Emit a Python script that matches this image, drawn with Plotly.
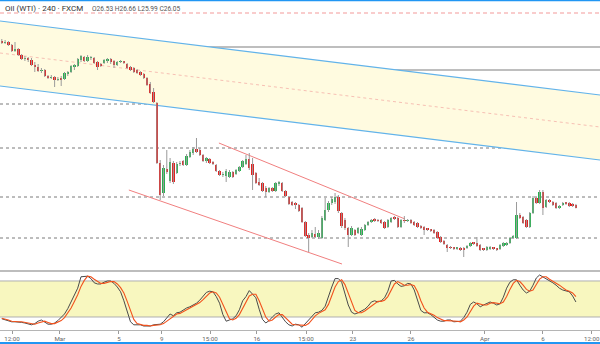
import plotly.graph_objects as go

# ---------------- data ----------------
opens = [51.10, 50.80, 50.95, 50.50, 49.60, 49.90, 49.00, 48.40, 48.55, 48.25,
         47.50, 47.20, 46.60, 46.75, 45.85, 45.55, 45.70, 45.25, 45.55, 45.40,
         46.15, 46.45, 47.20, 47.35, 48.25, 48.70, 48.10, 48.55, 48.55, 47.95,
         47.65, 47.80, 48.10, 48.40, 48.10, 47.50, 47.95, 47.95, 47.65, 47.20,
         47.05, 46.75, 46.45, 46.15, 45.55, 44.65, 43.45, 41.80, 32.80, 28.30,
         31.90, 30.10, 32.80, 31.30, 32.65, 33.10, 32.50, 33.70, 34.30, 34.90,
         34.75, 34.00, 33.10, 33.40, 32.95, 32.50, 31.60, 31.00, 30.85, 30.70,
         31.45, 31.15, 31.60, 32.20, 32.65, 33.40, 32.65, 31.30, 29.95, 29.80,
         29.05, 28.45, 29.05, 28.60, 29.65, 29.80, 28.60, 27.70, 26.95, 26.80,
         26.50, 26.05, 23.95, 22.00, 21.70, 22.15, 21.70, 21.55, 24.25, 25.75,
         26.80, 26.95, 27.70, 25.30, 24.25, 23.05, 22.00, 22.75, 22.30, 22.00,
         22.75, 23.50, 23.95, 24.25, 24.25, 24.25, 23.95, 23.20, 23.95, 24.55,
         24.55, 23.20, 24.25, 24.10, 24.25, 23.95, 23.80, 23.35, 23.20, 22.90,
         22.75, 22.75, 22.45, 21.70, 21.10, 20.50, 20.20, 20.05, 19.98, 20.05,
         20.05, 20.05, 20.35, 20.80, 20.80, 20.50, 19.90, 19.75, 19.90, 20.05,
         19.90, 19.90, 20.35, 20.50, 20.80, 21.55, 21.55, 25.00, 24.70, 24.25,
         23.20, 25.30, 27.55, 26.80, 28.45, 26.20, 27.25, 26.95, 26.80, 26.05,
         26.50, 26.80, 26.80, 26.65, 26.53]
highs = [51.40, 51.25, 51.10, 50.65, 50.95, 50.05, 49.15, 48.85, 48.70, 48.55,
         47.95, 47.65, 47.05, 46.90, 46.00, 46.00, 45.85, 45.70, 45.85, 46.45,
         46.60, 47.50, 47.65, 48.55, 49.00, 48.85, 49.00, 48.85, 48.70, 48.10,
         47.80, 48.40, 48.55, 48.55, 48.25, 48.10, 48.25, 48.10, 47.80, 47.35,
         47.20, 46.90, 46.60, 46.30, 45.70, 44.95, 44.05, 41.95, 33.25, 32.50,
         34.75, 33.55, 33.10, 32.95, 33.10, 33.25, 34.15, 34.75, 35.20, 36.55,
         35.05, 34.15, 33.70, 33.55, 33.10, 32.65, 31.75, 31.45, 31.90, 31.75,
         31.60, 31.90, 32.35, 33.25, 34.00, 34.30, 33.55, 31.45, 30.55, 29.95,
         29.35, 29.20, 29.20, 29.95, 30.10, 29.95, 28.75, 27.85, 27.10, 26.95,
         26.65, 26.20, 24.10, 22.30, 22.75, 23.20, 22.75, 24.85, 27.55, 27.10,
         27.70, 28.30, 28.00, 25.45, 24.55, 23.20, 23.35, 22.90, 23.20, 23.20,
         23.65, 24.10, 24.40, 24.55, 24.40, 24.40, 24.10, 24.40, 24.70, 24.85,
         24.70, 24.40, 24.85, 24.40, 24.40, 24.10, 23.95, 23.50, 23.35, 23.05,
         22.90, 22.90, 22.60, 21.85, 21.25, 20.65, 20.35, 20.20, 20.20, 20.20,
         20.20, 20.50, 20.95, 20.95, 21.70, 20.65, 20.05, 20.35, 20.35, 20.20,
         20.05, 20.65, 20.95, 20.95, 21.70, 22.00, 26.95, 25.30, 24.85, 24.40,
         25.45, 27.85, 27.70, 28.75, 28.75, 27.40, 27.40, 27.10, 26.95, 26.50,
         26.95, 26.95, 26.95, 26.80, 26.66]
lows = [50.65, 50.65, 50.35, 49.45, 49.45, 48.85, 48.25, 48.10, 47.95, 47.35,
        46.45, 46.45, 46.30, 45.70, 45.40, 45.40, 44.20, 45.10, 44.35, 45.25,
        45.85, 46.30, 46.75, 47.20, 47.95, 47.95, 47.95, 48.25, 47.65, 46.75,
        47.20, 47.65, 47.80, 47.65, 47.05, 47.35, 47.80, 47.65, 46.90, 46.60,
        46.30, 46.15, 45.85, 45.40, 44.35, 43.15, 41.80, 32.65, 27.25, 27.85,
        31.15, 29.80, 29.65, 31.15, 32.35, 32.35, 32.35, 33.55, 34.00, 34.30,
        33.85, 32.95, 32.80, 32.65, 32.50, 31.45, 30.85, 30.70, 29.95, 30.55,
        30.55, 31.00, 31.45, 32.05, 32.50, 31.75, 28.75, 29.65, 29.35, 28.45,
        27.70, 28.30, 28.45, 28.45, 29.35, 28.45, 27.70, 26.50, 26.35, 25.90,
        25.45, 23.80, 21.70, 19.45, 21.55, 21.55, 21.40, 21.40, 24.10, 25.45,
        26.50, 26.65, 25.30, 23.05, 22.75, 20.20, 21.85, 21.85, 22.15, 21.85,
        22.60, 23.35, 23.80, 23.95, 23.95, 23.65, 22.90, 23.05, 23.80, 24.25,
        23.05, 23.05, 23.80, 23.95, 23.65, 23.35, 23.05, 22.90, 22.00, 22.60,
        22.45, 22.15, 21.40, 20.80, 20.50, 19.45, 19.90, 19.75, 19.75, 19.60,
        18.70, 19.90, 20.20, 20.50, 20.20, 19.60, 19.60, 19.60, 19.75, 19.75,
        19.60, 19.75, 20.20, 20.35, 20.65, 21.40, 21.40, 24.40, 23.65, 23.05,
        23.05, 25.15, 26.65, 26.65, 25.00, 26.05, 26.80, 26.35, 25.90, 25.90,
        26.35, 26.50, 26.20, 26.20, 25.99]
closes = [50.80, 50.95, 50.50, 49.60, 49.90, 49.00, 48.40, 48.55, 48.25, 47.50,
          47.20, 46.60, 46.75, 45.85, 45.55, 45.70, 45.25, 45.40, 45.33, 46.30,
          46.45, 47.35, 47.50, 48.40, 48.85, 48.10, 48.70, 48.70, 47.80, 47.20,
          47.35, 48.25, 48.40, 47.95, 47.50, 47.95, 48.03, 47.88, 47.05, 46.75,
          46.45, 46.30, 46.00, 45.55, 44.50, 43.30, 41.95, 32.80, 28.00, 32.05,
          31.45, 32.95, 29.95, 32.65, 32.80, 32.50, 33.85, 34.45, 34.90, 34.45,
          34.00, 33.10, 33.55, 32.80, 32.65, 31.60, 31.00, 31.15, 31.60, 31.45,
          30.70, 31.75, 32.20, 33.10, 33.40, 32.05, 31.00, 29.80, 29.50, 28.60,
          28.45, 29.05, 28.60, 29.80, 29.95, 28.60, 27.85, 26.65, 26.50, 26.50,
          25.60, 23.95, 21.85, 21.55, 22.30, 21.70, 22.30, 24.55, 25.75, 26.80,
          27.40, 27.70, 25.60, 23.35, 23.05, 22.00, 23.05, 22.00, 23.05, 22.90,
          23.50, 23.95, 24.25, 24.18, 24.10, 23.80, 23.05, 24.25, 24.55, 24.48,
          23.20, 24.25, 24.10, 24.25, 23.80, 23.50, 23.20, 23.05, 22.75, 22.83,
          22.68, 22.30, 21.55, 20.95, 20.65, 20.05, 20.05, 19.98, 20.05, 19.75,
          19.75, 20.35, 20.80, 20.73, 20.35, 19.75, 19.83, 20.20, 20.20, 19.98,
          19.83, 20.50, 20.80, 20.80, 21.55, 21.85, 25.00, 24.55, 23.80, 23.20,
          25.30, 27.55, 26.80, 28.45, 26.05, 27.25, 26.95, 26.50, 26.05, 26.35,
          26.73, 26.73, 26.35, 26.35, 26.05]

stoch_k = [17, 15, 13, 12, 12, 12, 11, 10, 9, 7, 9, 13, 15, 11, 8, 8, 10, 14, 19, 25,
           34, 46, 57, 68, 87, 88, 88, 84, 77, 75, 75, 78, 80, 80, 76, 70, 62, 47, 30, 12,
           7, 7, 7, 5, 5, 5, 7, 7, 8, 12, 18, 25, 22, 27, 28, 32, 35, 37, 40, 43,
           48, 55, 61, 63, 62, 54, 43, 24, 13, 15, 17, 22, 32, 47, 54, 64, 57, 52, 33, 16,
           10, 14, 20, 25, 27, 19, 12, 7, 5, 8, 7, 3, 9, 16, 22, 27, 28, 31, 38, 55,
           70, 84, 84, 78, 60, 40, 28, 25, 27, 30, 33, 38, 45, 47, 45, 47, 52, 63, 80, 81,
           75, 71, 72, 76, 75, 65, 46, 31, 27, 27, 24, 19, 15, 13, 13, 15, 15, 12, 12, 13,
           19, 28, 41, 45, 42, 37, 40, 43, 45, 43, 40, 42, 53, 68, 78, 82, 82, 73, 65, 60,
           63, 73, 85, 90, 87, 83, 80, 77, 73, 68, 65, 63, 62, 55, 45]
stoch_d = [18, 17, 15, 13, 12, 12, 12, 11, 10, 9, 8, 10, 12, 13, 11, 9, 9, 11, 14, 19,
           26, 35, 46, 57, 71, 81, 88, 87, 83, 79, 76, 76, 78, 79, 79, 75, 69, 60, 46, 30,
           16, 9, 7, 6, 6, 5, 6, 6, 7, 9, 13, 18, 22, 25, 26, 29, 32, 35, 37, 40,
           44, 49, 55, 60, 62, 60, 53, 40, 27, 17, 15, 18, 24, 34, 44, 55, 58, 58, 47, 34,
           20, 13, 15, 20, 24, 24, 19, 13, 8, 7, 7, 6, 6, 9, 16, 22, 26, 29, 32, 41,
           54, 70, 79, 82, 74, 59, 43, 31, 27, 27, 30, 34, 39, 43, 46, 46, 48, 54, 65, 75,
           79, 76, 73, 73, 74, 72, 62, 47, 35, 28, 26, 23, 19, 16, 14, 14, 14, 14, 13, 12,
           15, 20, 29, 38, 43, 41, 40, 40, 43, 44, 43, 42, 45, 54, 66, 76, 81, 79, 73, 66,
           63, 65, 74, 83, 87, 87, 83, 80, 77, 73, 69, 65, 63, 60, 54]

tick_labels = ["12:00", "Mar", "5", "9", "15:00", "16", "15:00", "23", "26", "Apr", "6", "12:00"]
tick_index = [3.1, 17.6, 35.5, 48.5, 63.1, 77.3, 92.2, 106.4, 124.0, 146.4, 164.0, 178.8]

levels_solid = [50.20, 46.75]
levels_dashed = [41.65, 35.05, 27.70, 21.55]
levels_red = [55.30]

channel_x = [-0.55, 181.3]
channel_upper = [54.10, 43.00]
channel_mid = [49.30, 38.20]
channel_lower = [44.35, 33.25]

red_upper_x = [65.8, 122.2]
red_upper_y = [35.80, 24.40]
red_lower_x = [38.5, 103.1]
red_lower_y = [28.75, 17.65]

header_main = "Oil (WTI) · 240 · FXCM"
header_ohlc = "O26.53 H26.66 L25.99 C26.05"

# ---------------- styling ----------------
UP = "#26b24f"
DOWN = "#e2201f"
WICK = "#9a9a9a"

n = len(closes)
idx = list(range(n))
body_base = [min(o, c) for o, c in zip(opens, closes)]
body_h = [max(abs(c - o), 0.14) for o, c in zip(opens, closes)]
body_col = [UP if c >= o else DOWN for o, c in zip(opens, closes)]

wx, wy = [], []
for i, h, l in zip(idx, highs, lows):
    wx += [i, i, None]
    wy += [h, l, None]

fig = go.Figure()
fig.add_trace(go.Scatter(x=wx, y=wy, mode="lines", line=dict(color=WICK, width=1),
                         hoverinfo="skip", showlegend=False, xaxis="x", yaxis="y"))
fig.add_trace(go.Bar(x=idx, y=body_h, base=body_base, marker=dict(color=body_col, line=dict(width=0)),
                     width=0.72, showlegend=False, xaxis="x", yaxis="y"))
fig.add_trace(go.Scatter(x=idx, y=stoch_k, mode="lines", line=dict(color="#4a4a4a", width=1),
                         showlegend=False, xaxis="x", yaxis="y2"))
fig.add_trace(go.Scatter(x=idx, y=stoch_d, mode="lines", line=dict(color="#f2521d", width=1.1),
                         showlegend=False, xaxis="x", yaxis="y2"))

shapes = []
# channel fill
shapes.append(dict(type="path", xref="x", yref="y", layer="below",
                   path=f"M {channel_x[0]},{channel_upper[0]} L {channel_x[1]},{channel_upper[1]} "
                        f"L {channel_x[1]},{channel_lower[1]} L {channel_x[0]},{channel_lower[0]} Z",
                   fillcolor="#fffbe0", line=dict(width=0)))
for ys, col, w, dash in [(channel_upper, "#62b3ea", 1.2, "solid"), (channel_lower, "#62b3ea", 1.2, "solid"),
                         (channel_mid, "#f7c0b4", 1, "dot")]:
    shapes.append(dict(type="line", xref="x", yref="y", layer="below",
                       x0=channel_x[0], x1=channel_x[1], y0=ys[0], y1=ys[1],
                       line=dict(color=col, width=w, dash=dash)))
for lv in levels_solid:
    shapes.append(dict(type="line", xref="paper", yref="y", layer="below", x0=0, x1=1, y0=lv, y1=lv,
                       line=dict(color="#a9a9a9", width=1.5)))
for lv in levels_dashed:
    shapes.append(dict(type="line", xref="paper", yref="y", layer="below", x0=0, x1=1, y0=lv, y1=lv,
                       line=dict(color="#7a7a7a", width=1, dash="3px,3px")))
for lv in levels_red:
    shapes.append(dict(type="line", xref="paper", yref="y", layer="below", x0=0, x1=1, y0=lv, y1=lv,
                       line=dict(color="#f39a9a", width=1.2, dash="4px,3px")))
shapes.append(dict(type="line", xref="x", yref="y", layer="below",
                   x0=red_upper_x[0], x1=red_upper_x[1], y0=red_upper_y[0], y1=red_upper_y[1],
                   line=dict(color="#f07f7f", width=1)))
shapes.append(dict(type="line", xref="x", yref="y", layer="below",
                   x0=red_lower_x[0], x1=red_lower_x[1], y0=red_lower_y[0], y1=red_lower_y[1],
                   line=dict(color="#f07f7f", width=1)))
# stochastic band
shapes.append(dict(type="rect", xref="paper", yref="y2", layer="below", x0=0, x1=1, y0=20, y1=80,
                   fillcolor="#f8f7bf", line=dict(width=0)))
for lv in [20, 80]:
    shapes.append(dict(type="line", xref="paper", yref="y2", layer="below", x0=0, x1=1, y0=lv, y1=lv,
                       line=dict(color="#b0b0b0", width=1)))
# pane separator + frame
shapes.append(dict(type="line", xref="paper", yref="paper", x0=0, x1=1, y0=59 / 330, y1=59 / 330,
                   line=dict(color="#bdbdbd", width=2)))
shapes.append(dict(type="line", xref="paper", yref="paper", x0=0, x1=1, y0=1.0, y1=1.0,
                   line=dict(color="#2196f3", width=2.5)))
shapes.append(dict(type="line", xref="paper", yref="paper", x0=0, x1=1, y0=-13 / 330, y1=-13 / 330,
                   line=dict(color="#2196f3", width=2)))

fig.update_layout(
    width=600, height=344,
    margin=dict(l=0, r=0, t=0, b=14),
    paper_bgcolor="white", plot_bgcolor="white",
    bargap=0, showlegend=False,
    shapes=shapes,
    xaxis=dict(range=[-0.55, 181.3], anchor="y2", showgrid=False, zeroline=False,
               showline=True, linecolor="#b5b5b5", linewidth=1,
               tickmode="array", tickvals=tick_index, ticktext=tick_labels,
               ticks="outside", ticklen=3, tickcolor="#9a9a9a",
               tickfont=dict(family="Roboto", size=6.2, color="#666666")),
    yaxis=dict(domain=[62 / 330, 1], range=[17.05, 57.25], visible=False),
    yaxis2=dict(domain=[0, 60 / 330], range=[-1.67, 98.3], visible=False),
    annotations=[
        dict(xref="paper", yref="paper", x=3 / 600, y=(330 - 9) / 330, xanchor="left", yanchor="middle",
             text=header_main, showarrow=False, font=dict(family="Roboto", size=8, color="#333333")),
        dict(xref="paper", yref="paper", x=90 / 600, y=(330 - 9) / 330, xanchor="left", yanchor="middle",
             text=header_ohlc, showarrow=False, font=dict(family="Roboto", size=6.6, color="#555555")),
    ],
)

fig.write_html("out.html")
